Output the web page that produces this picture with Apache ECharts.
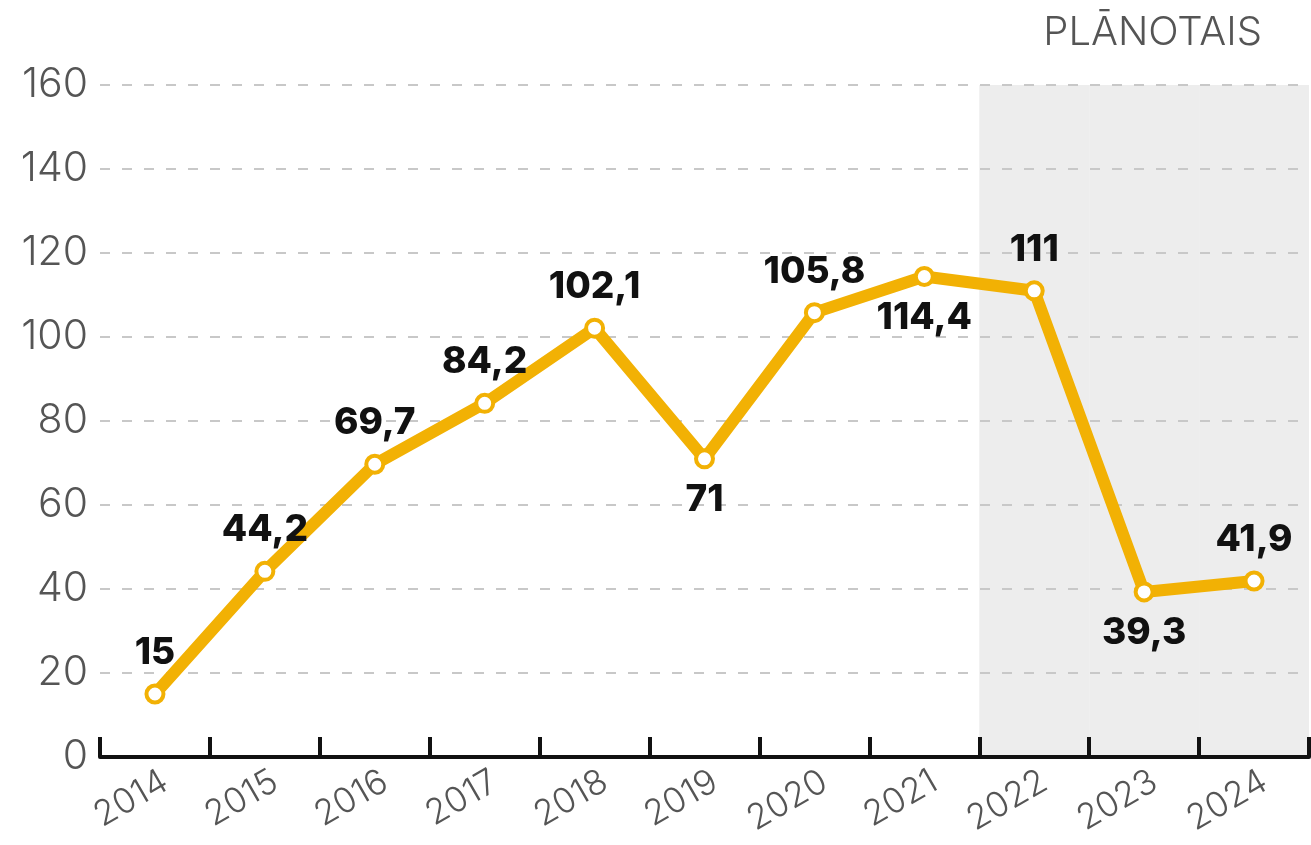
<!DOCTYPE html>
<html>
<head>
<meta charset="utf-8">
<script src="https://cdn.jsdelivr.net/npm/echarts@6/dist/echarts.min.js"></script>
<style>
  html, body { margin: 0; padding: 0; background: #fff; }
  #chart { width: 1311px; height: 845px; }
</style>
</head>
<body>
<div id="chart"></div>
<script>
const years = ['2014', '2015', '2016', '2017', '2018', '2019', '2020', '2021', '2022', '2023', '2024'];
const values = [15, 44.2, 69.7, 84.2, 102.1, 71, 105.8, 114.4, 111, 39.3, 41.9];
// where each value label sits relative to its point
const labelPos = ['top', 'top', 'top', 'top', 'top', 'bottom', 'top', 'bottom', 'top', 'bottom', 'top'];
const planned = [false, false, false, false, false, false, false, false, true, true, true];
const yTicks = [0, 20, 40, 60, 80, 100, 120, 140, 160];

const yMax = yTicks[yTicks.length - 1];
const chart = echarts.init(document.getElementById('chart'));

const fmt = v => String(v).replace('.', ',');

chart.setOption({
  animation: false,
  title: {
    text: 'PLĀNOTAIS',
    right: 44,
    top: 8,
    textStyle: { fontFamily: 'Inter', fontWeight: 300, fontSize: 40, color: '#555' }
  },
  grid: { left: 100, right: 2, top: 85, bottom: 88 },
  xAxis: {
    type: 'category',
    data: years,
    boundaryGap: true,
    axisLine: { show: true, lineStyle: { color: '#111', width: 4 } },
    axisTick: { show: true, inside: true, length: 20, lineStyle: { color: '#111', width: 4 } },
    axisLabel: {
      rotate: 30, margin: 28,
      padding: [0, -12, 0, 0],
      fontFamily: 'Inter', fontWeight: 300, fontSize: 35, color: '#555'
    }
  },
  yAxis: {
    type: 'value',
    min: 0, max: yMax, interval: 20,
    axisLine: { show: false },
    axisTick: { show: false },
    axisLabel: { margin: 12, fontFamily: 'Inter', fontWeight: 300, fontSize: 41, color: '#555' },
    splitLine: { lineStyle: { color: '#c8c8c8', width: 2, type: [10, 12] } }
  },
  series: [
    {
      type: 'bar',
      silent: true,
      z: -1,
      barWidth: '100%',
      itemStyle: { color: '#ededed' },
      data: planned.map(p => (p ? yMax : null))
    },
    {
      type: 'line',
      z: 5,
      data: values.map((v, i) => ({ value: v, label: { position: labelPos[i] } })),
      symbol: 'circle',
      symbolSize: 17,
      lineStyle: { color: '#f2b104', width: 12 },
      itemStyle: { color: '#fff', borderColor: '#f2b104', borderWidth: 4 },
      label: {
        show: true,
        distance: 12,
        formatter: p => fmt(p.value),
        fontFamily: 'Inter', fontWeight: 800, fontSize: 37, color: '#111'
      }
    }
  ]
});
</script>
</body>
</html>
